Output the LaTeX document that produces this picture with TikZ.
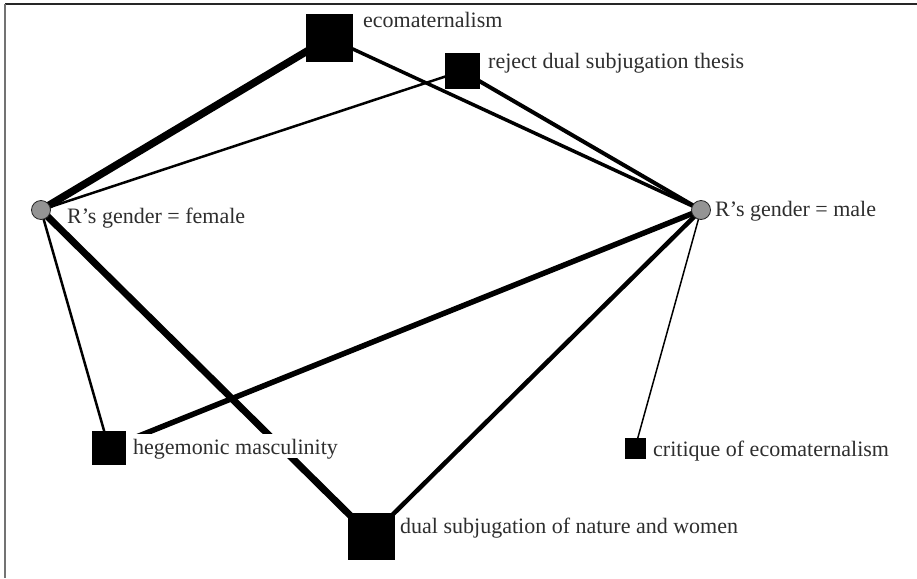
\documentclass[tikz,border=0pt]{standalone}
\usepackage{fontspec}
\setmainfont{Liberation Serif}
\pgfdeclarelayer{bg}
\pgfsetlayers{bg,main}
\begin{document}
\begin{tikzpicture}[x=1pt,y=-1pt,
  sq/.style={fill=black, draw=none, minimum size=#1, inner sep=0pt},
  dot/.style={circle, fill=black!42, draw=black!85, line width=0.8pt, minimum size=19pt, inner sep=0pt},
  lbl/.style={anchor=base west, fill=white, inner xsep=0pt, inner ysep=0pt, text height=20pt, text depth=4pt,
              font=\fontsize{22}{26}\selectfont, text=black!82},
  lnk/.style={draw=black, line width=#1}]
\useasboundingbox (0,0) rectangle (917,578);
% frame
\draw[black!85, line width=1.5pt] (5,4) -- (917,4);
\draw[black!55, line width=2pt] (5,4) -- (5,578);
% labels
\node[lbl] (leco) at (363,28) {ecomaternalism};
\node[lbl] (lrej) at (488,68) {reject dual subjugation thesis};
\node[lbl] (lfem) at (67,223) {R’s gender = female};
\node[lbl] (lmal) at (715,216) {R’s gender = male};
\node[lbl, inner xsep=9pt] (lheg) at (124,454) {hegemonic masculinity};
\node[lbl] (ldual) at (400,533) {dual subjugation of nature and women};
\node[lbl] (lcrit) at (653,456) {critique of ecomaternalism};
% squares and dots
\node[sq=47pt] (eco) at (329,38) {};
\node[sq=35pt] (rej) at (462,71) {};
\node[sq=34pt] (heg) at (109,448) {};
\node[sq=47pt] (dual) at (371,536) {};
\node[sq=21pt] (crit) at (635,448) {};
\node[dot] (fem) at (41,210) {};
\node[dot] (mal) at (701,210) {};
% connectors
\begin{pgfonlayer}{bg}
\draw[lnk=7.5pt] (fem.center) -- (eco.center);
\draw[lnk=7pt] (fem.center) -- (dual.center);
\draw[lnk=2.5pt] (fem.center) -- (rej.center);
\draw[lnk=2.5pt] (fem.center) -- (heg.center);
\draw[lnk=3.5pt] (mal.center) -- (eco.center);
\draw[lnk=4pt] (mal.center) -- (rej.center);
\draw[lnk=5.5pt] (mal.center) -- (heg.center);
\draw[lnk=4.5pt] (mal.center) -- (dual.center);
\draw[lnk=1.5pt] (mal.center) -- (crit.center);
\end{pgfonlayer}
\end{tikzpicture}
\end{document}
